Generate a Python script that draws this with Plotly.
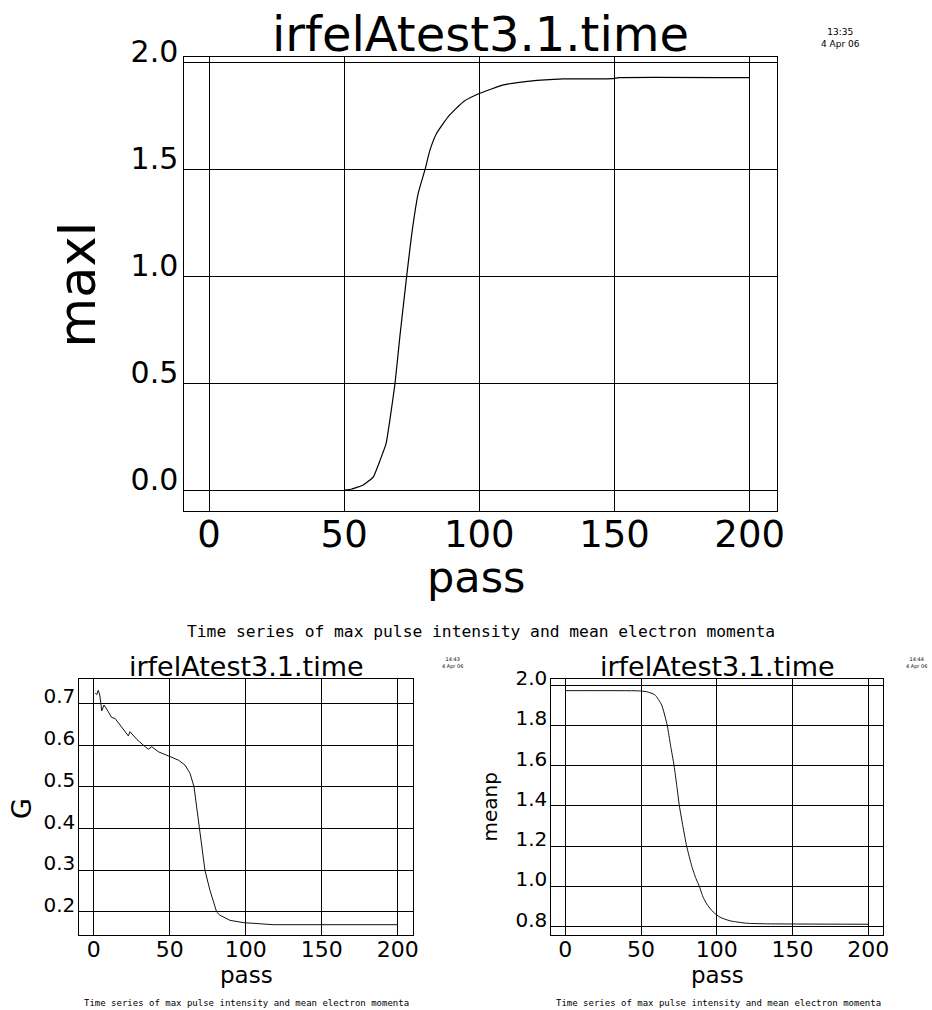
import plotly.graph_objects as go

W, H = 932, 1010

# ---------------- data ----------------
pass_I = [50, 52.8, 57.1, 60.8, 63.3, 65.5, 66.9, 68.8, 70.6, 73.1, 75.0, 77.4,
          79.9, 81.7, 84.2, 88.5, 94.1, 100.2, 108.9, 118.7, 131.1, 149.6, 151.5, 200]
maxI = [0.003, 0.008, 0.027, 0.065, 0.143, 0.22, 0.33, 0.50, 0.72, 1.00, 1.20, 1.39,
        1.50, 1.59, 1.67, 1.748, 1.818, 1.857, 1.896, 1.914, 1.924, 1.926, 1.930, 1.930]

pass_G = [1, 2, 3, 4, 5.3, 6.8, 9.6, 11.8, 14, 18.4, 22.8, 23.9, 28.3, 32.6, 35.9, 38.2,
          42.5, 49.1, 55.7, 60.1, 63.4, 66.0, 67.8, 69.3, 71.2, 73.2, 76.5, 79.8, 80.9,
          83.1, 89.7, 98.4, 109.4, 117, 118, 200]
G = [0.725, 0.721, 0.731, 0.720, 0.682, 0.696, 0.680, 0.666, 0.664, 0.644, 0.622, 0.632,
     0.614, 0.600, 0.590, 0.596, 0.584, 0.574, 0.564, 0.552, 0.532, 0.500, 0.452, 0.400,
     0.350, 0.300, 0.252, 0.212, 0.200, 0.192, 0.180, 0.1745, 0.172, 0.171, 0.1695, 0.1695]

pass_p = [0, 48.2, 53.7, 59.2, 63.6, 67.3, 69.5, 71.8, 73.6, 75.3, 77.6, 80.1, 83.5,
          86.2, 88.5, 90.5, 93.3, 97.7, 102.1, 108.7, 119.7, 132.9, 200]
meanp = [1.973, 1.972, 1.968, 1.952, 1.902, 1.80, 1.70, 1.60, 1.50, 1.40, 1.30, 1.20, 1.10,
         1.04, 1.00, 0.955, 0.913, 0.872, 0.847, 0.829, 0.817, 0.814, 0.812]

x_ticks = [0, 50, 100, 150, 200]
yI_ticks = [0.0, 0.5, 1.0, 1.5, 2.0]
yG_ticks = [0.2, 0.3, 0.4, 0.5, 0.6, 0.7]
yp_ticks = [0.8, 1.0, 1.2, 1.4, 1.6, 1.8, 2.0]

title_text = "irfelAtest3.1.time"
caption = "Time series of max pulse intensity and mean electron momenta"

# ---------------- figure ----------------
FONT = "DejaVu Sans"
MONO = "DejaVu Sans Mono"


def px(x):
    return x / W


def py(y):
    return 1 - y / H


fig = go.Figure()
fig.add_trace(go.Scatter(x=pass_I, y=maxI, mode="lines",
                         line=dict(color="#000", width=1.2, shape="spline", smoothing=0.4),
                         xaxis="x", yaxis="y", showlegend=False, hoverinfo="skip"))
fig.add_trace(go.Scatter(x=pass_G, y=G, mode="lines", line=dict(color="#111", width=1),
                         xaxis="x2", yaxis="y2", showlegend=False, hoverinfo="skip"))
fig.add_trace(go.Scatter(x=pass_p, y=meanp, mode="lines",
                         line=dict(color="#111", width=1, shape="spline", smoothing=0.5),
                         xaxis="x3", yaxis="y3", showlegend=False, hoverinfo="skip"))


def axis(domain, rng, ticks, fsize, fmt=None, anchor=None, shift=0, standoff=None, lw=1):
    d = dict(domain=domain, range=rng, tickmode="array", tickvals=ticks,
             showgrid=True, gridcolor="#000", gridwidth=lw,
             showline=True, linecolor="#000", linewidth=lw, mirror=True,
             zeroline=False, ticks="", fixedrange=True, automargin=False,
             tickfont=dict(family=FONT, size=fsize, color="#000"),
             anchor=anchor)
    if fmt:
        d["tickformat"] = fmt
    if shift:
        d["ticklabelshift"] = shift
    if standoff is not None:
        d["ticklabelstandoff"] = standoff
    return d


fig.update_layout(
    template="none",
    width=W, height=H, margin=dict(l=0, r=0, t=0, b=0, pad=0, autoexpand=False),
    paper_bgcolor="white", plot_bgcolor="white",
    font=dict(family=FONT, color="#000"),
    xaxis=axis([px(184.3), px(776.7)], [-9.14, 210.0], x_ticks, 37, anchor="y", standoff=-9),
    yaxis=axis([py(510.7), py(56.7)], [-0.0935, 2.028], yI_ticks, 30, ".1f", anchor="x",
               shift=-11, standoff=-1),
    xaxis2=axis([px(79.3), px(413.3)], [-9.47, 210.3], x_ticks, 22, anchor="y2", standoff=-6),
    yaxis2=axis([py(935.3), py(679)], [0.1441, 0.7583], yG_ticks, 20, ".1f", anchor="x2",
                shift=-7, standoff=-1),
    xaxis3=axis([px(551.3), px(883.3)], [-9.24, 209.9], x_ticks, 22, anchor="y3", standoff=-6),
    yaxis3=axis([py(935.3), py(679)], [0.757, 2.031], yp_ticks, 20, ".1f", anchor="x3",
                shift=-7, standoff=-1),
)


def ann(text, x, y, size, family=FONT, angle=0):
    return dict(text=text, x=px(x), y=py(y), xref="paper", yref="paper",
                xanchor="center", yanchor="middle", showarrow=False, textangle=angle,
                borderpad=0,
                font=dict(family=family, size=size, color="#000"))


annotations = [
    # top panel
    ann(title_text, 480.5, 33.7, 48),
    ann("13:35<br>4 Apr 06", 840, 38, 9),
    ann("maxI", 77, 284.5, 51, angle=-90),
    ann("pass", 476, 577, 43),
    ann(caption, 480.5, 631.5, 16.3, family=MONO),
    # bottom-left
    ann(title_text, 246.5, 666.7, 27),
    ann("14:43<br>4 Apr 06", 452.5, 662.5, 5),
    ann("G", 21, 809, 27, angle=-90),
    ann("pass", 246, 975, 23),
    ann(caption, 246, 1003, 9, family=MONO),
    # bottom-right
    ann(title_text, 717.5, 666.7, 27),
    ann("14:44<br>4 Apr 06", 916, 662.5, 5),
    ann("meanp", 489, 807.5, 20, angle=-90),
    ann("pass", 717.5, 975, 23),
    ann(caption, 718, 1003, 9, family=MONO),
]
fig.update_layout(annotations=annotations)

fig.write_html("out.html", config={"displayModeBar": False, "staticPlot": True},
               post_script="document.body.style.margin='0';document.body.style.padding='0';")
